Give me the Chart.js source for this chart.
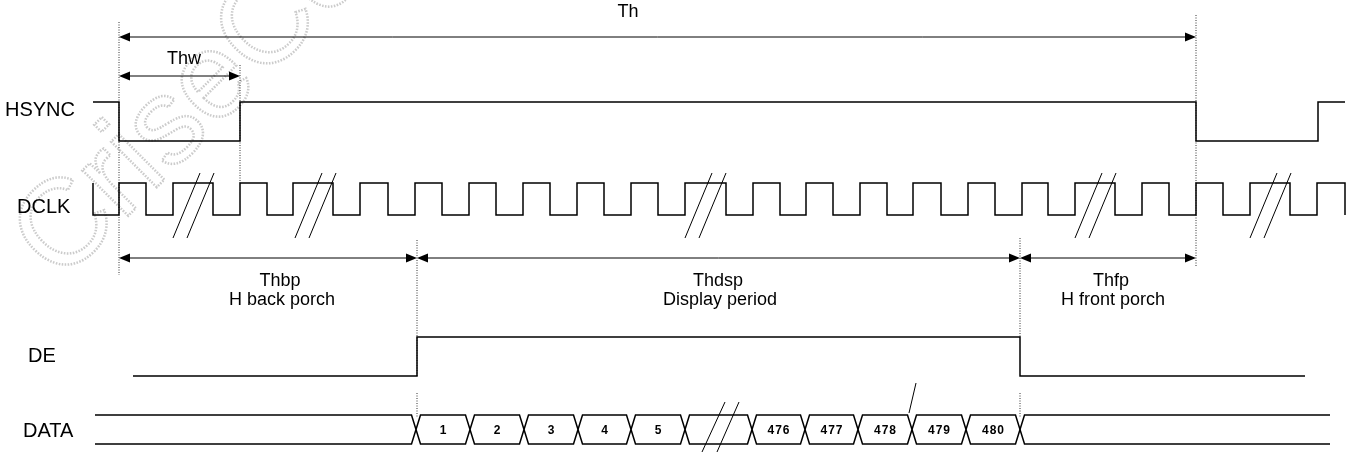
<!DOCTYPE html>
<html>
<head>
<meta charset="utf-8">
<script src="https://cdn.jsdelivr.net/npm/chart.js@4.4.1/dist/chart.umd.min.js"></script>
<style>
html, body { margin: 0; padding: 0; background: #fff; }
#timing { display: block; }
</style>
</head>
<body>
<canvas id="timing" width="1355" height="452"></canvas>
<script>
// times are in diagram units (the drawing is 1355 units wide)
const hsyncStart = 93, hsyncEnd = 1345;
const hsyncEdges = [119, 240, 1196, 1318];

const dclkStart = 93, dclkEnd = 1345;
const dclkEdges = [93, 119, 146, 173, 213, 240, 267, 293, 333, 360, 388, 415, 442, 469, 496, 523, 550,
    577, 604, 631, 658, 685, 726, 753, 780, 806, 833, 860, 887, 913, 941, 968, 995, 1022, 1048, 1075,
    1115, 1142, 1169, 1196, 1223, 1250, 1290, 1317, 1345];
const dclkBreaks = [173, 295, 685, 1075, 1250];

const deStart = 133, deEnd = 1305;
const deEdges = [417, 1020];

const dataStart = 95, dataEnd = 1330;
const dataCross = [416, 470, 524, 578, 631, 685, 752, 805, 858, 912, 966, 1020];
const dataWords = ['1', '2', '3', '4', '5', '', '476', '477', '478', '479', '480'];
const dataBreaks = [702];

const signalNames = ['HSYNC', 'DCLK', 'DE', 'DATA'];

const arrowNames = ['Th', 'Thw', 'Thbp', 'Thdsp', 'Thfp'];
const arrowNotes = ['', '', 'H back porch', 'Display period', 'H front porch'];
const arrowFrom = [119, 119, 119, 417, 1020];
const arrowTo = [1196, 240, 417, 1020, 1196];

// layout (vertical positions etc.)
const rowY = { HSYNC: [102, 141], DCLK: [183, 215], DE: [337, 376], DATA: [415, 444] };
const nameX = { HSYNC: 5, DCLK: 17, DE: 28, DATA: 23 };
const nameY = { HSYNC: 110, DCLK: 207, DE: 356, DATA: 431 };
const arrowY = [37, 76, 258, 258, 258];
const arrowLabelX = [628, 184, 280, 718, 1111];
const arrowLabelY = [12, 59, 281, 281, 281];
const noteY = 300;
const guides = [[119, 22, 275], [240, 65, 183], [1196, 15, 267], [417, 240, 376], [417, 393, 417],
    [1020, 238, 337], [1020, 393, 417]];
const bevel = 4.5;

function stepPoints(start, end, edges, high, levels) {
    const pts = [];
    let lvl = high;
    pts.push({ x: start, y: lvl ? levels[0] : levels[1] });
    edges.forEach(e => {
        pts.push({ x: e, y: lvl ? levels[0] : levels[1] });
        lvl = !lvl;
        pts.push({ x: e, y: lvl ? levels[0] : levels[1] });
    });
    pts.push({ x: end, y: lvl ? levels[0] : levels[1] });
    return pts;
}

function line(points, extra) {
    return Object.assign({
        data: points,
        showLine: true,
        borderColor: '#000',
        borderWidth: 1.5,
        pointRadius: 0,
        fill: false,
        tension: 0
    }, extra || {});
}

const datasets = [];
datasets.push(line(stepPoints(hsyncStart, hsyncEnd, hsyncEdges, true, rowY.HSYNC)));
datasets.push(line(stepPoints(dclkStart, dclkEnd, dclkEdges, true, rowY.DCLK)));
datasets.push(line(stepPoints(deStart, deEnd, deEdges, false, rowY.DE)));

// data bus
const [busTop, busBot] = rowY.DATA;
const busMid = (busTop + busBot) / 2;
const firstX = dataCross[0], lastX = dataCross[dataCross.length - 1];
datasets.push(line([{ x: dataStart, y: busTop }, { x: firstX - bevel, y: busTop }, { x: firstX, y: busMid },
    { x: firstX - bevel, y: busBot }, { x: dataStart, y: busBot }]));
for (let i = 0; i < dataCross.length - 1; i++) {
    const l = dataCross[i], r = dataCross[i + 1];
    datasets.push(line([{ x: l, y: busMid }, { x: l + bevel, y: busTop }, { x: r - bevel, y: busTop },
        { x: r, y: busMid }, { x: r - bevel, y: busBot }, { x: l + bevel, y: busBot }, { x: l, y: busMid }]));
}
datasets.push(line([{ x: dataEnd, y: busTop }, { x: lastX + bevel, y: busTop }, { x: lastX, y: busMid },
    { x: lastX + bevel, y: busBot }, { x: dataEnd, y: busBot }]));

// break marks
dclkBreaks.forEach(b => {
    datasets.push(line([{ x: b, y: 238 }, { x: b + 27, y: 173 }], { borderWidth: 1 }));
    datasets.push(line([{ x: b + 14, y: 238 }, { x: b + 41, y: 173 }], { borderWidth: 1 }));
});
dataBreaks.forEach(b => {
    datasets.push(line([{ x: b, y: 452 }, { x: b + 23, y: 402 }], { borderWidth: 1 }));
    datasets.push(line([{ x: b + 15, y: 452 }, { x: b + 37, y: 402 }], { borderWidth: 1 }));
});
datasets.push(line([{ x: 909, y: 413 }, { x: 916, y: 383 }], { borderWidth: 1 }));

// dotted guides
guides.forEach(g => {
    datasets.push(line([{ x: g[0], y: g[1] }, { x: g[0], y: g[2] }],
        { borderWidth: 1, borderColor: '#333', borderDash: [1, 1.5] }));
});

function arrowHead(ctx, xt, yy, dir) {
    ctx.beginPath();
    ctx.moveTo(xt, yy);
    ctx.lineTo(xt + dir * 11, yy - 4.5);
    ctx.lineTo(xt + dir * 11, yy + 4.5);
    ctx.closePath();
    ctx.fill();
}

const timingDecor = {
    id: 'timingDecor',
    beforeDatasetsDraw(chart) {
        const { ctx, scales: { x, y } } = chart;
        ctx.save();
        ctx.translate(x.getPixelForValue(60), y.getPixelForValue(284));
        ctx.rotate(-45 * Math.PI / 180);
        ctx.font = '122px "Liberation Sans"';
        ctx.strokeStyle = '#cbcbcb';
        ctx.lineWidth = 2.5;
        ctx.setLineDash([1.5, 1.5]);
        ctx.strokeText('CriseCo', 0, 0);
        ctx.restore();
    },
    afterDatasetsDraw(chart) {
        const { ctx, scales: { x, y } } = chart;
        ctx.save();
        ctx.fillStyle = '#000';
        ctx.strokeStyle = '#000';
        ctx.lineWidth = 1;
        arrowNames.forEach((name, i) => {
            const x0 = x.getPixelForValue(arrowFrom[i]);
            const x1 = x.getPixelForValue(arrowTo[i]);
            const yy = y.getPixelForValue(arrowY[i]);
            ctx.beginPath();
            ctx.moveTo(x0 + 8, yy);
            ctx.lineTo(x1 - 8, yy);
            ctx.stroke();
            arrowHead(ctx, x0, yy, 1);
            arrowHead(ctx, x1, yy, -1);
            ctx.font = '18px "Liberation Sans"';
            ctx.textAlign = 'center';
            ctx.textBaseline = 'middle';
            const lx = x.getPixelForValue(arrowLabelX[i]);
            ctx.fillText(name, lx, y.getPixelForValue(arrowLabelY[i]));
            if (arrowNotes[i]) {
                ctx.fillText(arrowNotes[i], lx + 2, y.getPixelForValue(noteY));
            }
        });
        ctx.font = '20px "Liberation Sans"';
        ctx.textAlign = 'left';
        ctx.textBaseline = 'middle';
        signalNames.forEach(n => {
            ctx.fillText(n, x.getPixelForValue(nameX[n]), y.getPixelForValue(nameY[n]));
        });
        ctx.font = 'bold 12px "Liberation Sans"';
        ctx.letterSpacing = '1px';
        ctx.textAlign = 'center';
        dataWords.forEach((w, i) => {
            if (!w) return;
            const cx = x.getPixelForValue((dataCross[i] + dataCross[i + 1]) / 2);
            ctx.fillText(w, cx + 0.5, y.getPixelForValue(busMid + 1));
        });
        ctx.restore();
    }
};

new Chart(document.getElementById('timing'), {
    type: 'scatter',
    data: { datasets: datasets },
    options: {
        responsive: false,
        animation: false,
        events: [],
        layout: { padding: 0 },
        plugins: { legend: { display: false }, tooltip: { enabled: false } },
        scales: {
            x: { type: 'linear', min: 0, max: 1355, display: false },
            y: { type: 'linear', min: 0, max: 452, reverse: true, display: false }
        }
    },
    plugins: [timingDecor]
});
</script>
</body>
</html>
